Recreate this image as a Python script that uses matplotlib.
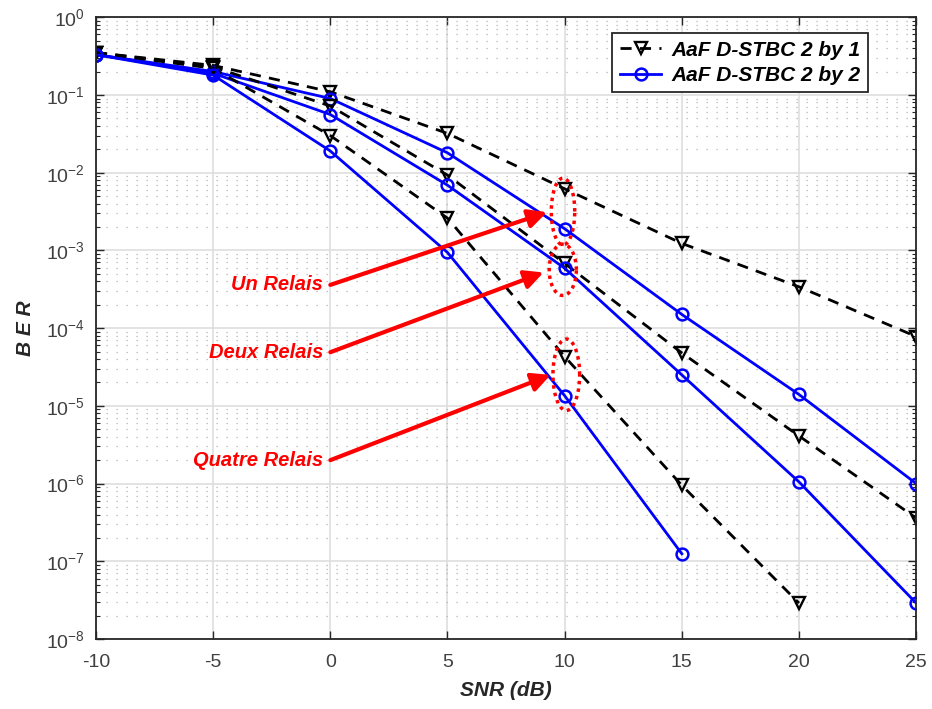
import numpy as np
import matplotlib
matplotlib.use("Agg")
import matplotlib.pyplot as plt
from matplotlib.ticker import LogLocator, MultipleLocator, NullFormatter, NullLocator


# --- Data ---

snr = [-10, -5, 0, 5, 10, 15, 20, 25]

ber_21_un = [0.35, 0.24, 0.11, 0.032, 6.2e-3, 1.23e-3, 3.4e-4, 7.8e-5]
ber_22_un = [0.33, 0.20, 0.09, 0.018, 1.9e-3, 1.5e-4, 1.4e-5, 1.0e-6]
ber_21_deux = [0.35, 0.23, 0.072, 9.3e-3, 6.8e-4, 4.8e-5, 4.1e-6, 3.6e-7]
ber_22_deux = [0.33, 0.19, 0.056, 6.9e-3, 5.9e-4, 2.5e-5, 1.05e-6, 2.9e-8]
ber_21_quatre = [0.35, 0.22, 0.030, 2.6e-3, 4.3e-5, 9.5e-7, 2.9e-8]
ber_22_quatre = [0.33, 0.18, 0.019, 9.4e-4, 1.35e-5, 1.25e-7]

legend_labels = ["AaF D-STBC 2 by 1", "AaF D-STBC 2 by 2"]

# annotation labels, arrow start (x, y) and arrow tip (x, y)
relay_labels = ["Un Relais", "Deux Relais", "Quatre Relais"]
arrow_start = [(0.0, 3.6e-4), (0.0, 4.9e-5), (0.0, 2.0e-6)]
arrow_tip = [(9.25, 3.1e-3), (9.1, 5.2e-4), (9.4, 2.5e-5)]

# dotted ellipses around the 10 dB points: x centre, log10 centre, half width, half height (decades)
ellipses = [(9.93, -2.5, 0.5, 0.43), (9.92, -3.25, 0.58, 0.33), (10.07, -4.6, 0.57, 0.46)]


# --- Figure ---

plt.rcParams["font.family"] = ["Liberation Sans", "DejaVu Sans"]
plt.rcParams["mathtext.fontset"] = "custom"
plt.rcParams["mathtext.rm"] = "Liberation Sans"
plt.rcParams["axes.unicode_minus"] = False

fig = plt.figure(figsize=(9.32, 7.09), dpi=100)
ax = fig.add_axes([0.103, 0.0987, 0.88, 0.877])

black_kw = dict(color="k", linestyle="--", dashes=(4, 3), linewidth=2,
                marker="v", markersize=8.5, markerfacecolor="none",
                markeredgewidth=1.7)
blue_kw = dict(color="#0000ff", linestyle="-", linewidth=2,
               marker="o", markersize=8.5, markerfacecolor="none",
               markeredgewidth=1.8)

ax.plot(snr, ber_21_un, label=legend_labels[0], **black_kw)
ax.plot(snr, ber_22_un, label=legend_labels[1], **blue_kw)
ax.plot(snr, ber_21_deux, **black_kw)
ax.plot(snr, ber_22_deux, **blue_kw)
ax.plot(snr[:len(ber_21_quatre)], ber_21_quatre, **black_kw)
ax.plot(snr[:len(ber_22_quatre)], ber_22_quatre, **blue_kw)

ax.set_yscale("log")
ax.set_xlim(-10, 25)
ax.set_ylim(1e-8, 1)

ax.xaxis.set_major_locator(MultipleLocator(5))
ax.xaxis.set_minor_locator(NullLocator())
ax.yaxis.set_major_locator(LogLocator(base=10, numticks=20))
ax.yaxis.set_minor_locator(LogLocator(base=10, subs=np.arange(2, 10), numticks=20))
ax.yaxis.set_minor_formatter(NullFormatter())

ax.grid(True, which="major", color="#dedede", linewidth=1.2, linestyle="-")
ax.grid(True, which="minor", axis="y", color="#b4b4b4", linewidth=0.9,
        linestyle=(0, (1, 7)))
ax.set_axisbelow(True)

ax.tick_params(which="both", direction="in", top=True, right=True,
               colors="#262626", labelcolor="#404040")
ax.tick_params(which="major", length=6, width=1.0, labelsize=14, pad=8)
ax.tick_params(axis="x", which="major", pad=11)
ax.tick_params(which="minor", length=3, width=0.8)
for sp in ax.spines.values():
    sp.set_color("#262626")
    sp.set_linewidth(1.3)

ax.set_xlabel("SNR (dB)", fontsize=15, fontweight="bold", fontstyle="italic",
              color="#262626", labelpad=7)
ax.set_ylabel("B E R", fontsize=15, fontweight="bold", fontstyle="italic",
              color="#262626", labelpad=8)


# --- Red annotations ---

for label, (x0, y0), (x1, y1) in zip(relay_labels, arrow_start, arrow_tip):
    ax.annotate("", xy=(x1, y1), xytext=(x0, y0),
                arrowprops=dict(arrowstyle="-|>", color="red", lw=3,
                                mutation_scale=28, shrinkA=0, shrinkB=0))
    ax.text(x0 - 0.3, y0, label, color="red", fontsize=14.5, fontweight="bold",
            fontstyle="italic", ha="right", va="center")

t = np.linspace(0, 2 * np.pi, 200)
for xc, lc, a, b in ellipses:
    ax.plot(xc + a * np.cos(t), 10 ** (lc + b * np.sin(t)), color="red",
            linestyle=(0, (1, 1.2)), linewidth=2.5)


# --- Legend ---

leg = ax.legend(loc="upper right", bbox_to_anchor=(0.9415, 0.974),
                borderaxespad=0, fancybox=False, framealpha=1,
                edgecolor="#262626", handlelength=2.0, borderpad=0.35,
                labelspacing=0.3, handletextpad=0.5,
                prop=dict(size=15, weight="bold", style="italic"))
leg.get_frame().set_linewidth(1.3)

fig.savefig("out.png", dpi=100)
